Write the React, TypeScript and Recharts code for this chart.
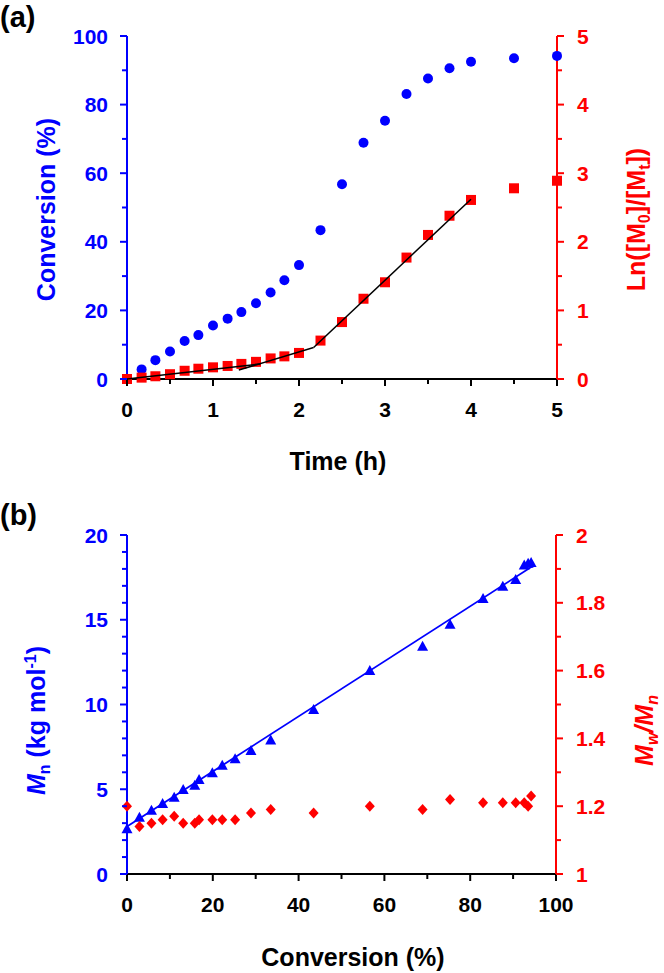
import React from "react";
import { ComposedChart, Scatter, XAxis, YAxis } from "recharts";

const BLUE = "#0000ff";
const RED = "#ff0000";
const BLACK = "#000000";
const FONT = '"Liberation Sans", Arial, Helvetica, sans-serif';

// ---- panel (a): kinetics ----
const timeA = [0, 0.17, 0.33, 0.5, 0.67, 0.83, 1, 1.17, 1.33, 1.5, 1.67, 1.83, 2, 2.25, 2.5, 2.75, 3, 3.25, 3.5, 3.75, 4, 4.5, 5];
const conversionA = [0, 2.8, 5.5, 8.0, 11.1, 12.8, 15.6, 17.6, 19.5, 22.1, 25.2, 28.8, 33.2, 43.4, 56.8, 68.9, 75.3, 83.1, 87.6, 90.6, 92.5, 93.5, 94.2];
const lnA = [0, 0.02, 0.04, 0.07, 0.12, 0.15, 0.17, 0.19, 0.22, 0.25, 0.3, 0.33, 0.38, 0.56, 0.83, 1.17, 1.41, 1.77, 2.1, 2.38, 2.61, 2.78, 2.89];

// piecewise linear fits drawn in black
const fit1Time = [0, 1.55];
const fit1Ln = [0, 0.22];
const fit2Time = [1.3, 2.17];
const fit2Ln = [0.13, 0.46];
const fit3Time = [2.17, 4.0];
const fit3Ln = [0.46, 2.62];

const timeTicks = [0, 0.5, 1, 1.5, 2, 2.5, 3, 3.5, 4, 4.5, 5];
const conversionTicks = [0, 10, 20, 30, 40, 50, 60, 70, 80, 90, 100];
const lnTicks = [0, 0.5, 1, 1.5, 2, 2.5, 3, 3.5, 4, 4.5, 5];

// ---- panel (b): molar mass vs conversion ----
const convB = [0, 2.9, 5.7, 8.3, 11.0, 13.1, 15.8, 16.8, 19.9, 22.2, 25.2, 28.9, 33.5, 43.5, 56.6, 68.9, 75.3, 83.0, 87.6, 90.6, 92.6, 93.5, 94.2];
const mnB = [2.64, 3.32, 3.73, 4.13, 4.5, 4.96, 5.21, 5.55, 5.94, 6.39, 6.77, 7.26, 7.87, 9.68, 11.98, 13.4, 14.7, 16.22, 16.95, 17.35, 18.2, 18.3, 18.35];
const dispersityB = [1.2, 1.14, 1.15, 1.16, 1.17, 1.15, 1.15, 1.16, 1.16, 1.16, 1.16, 1.18, 1.19, 1.18, 1.2, 1.19, 1.22, 1.21, 1.21, 1.21, 1.21, 1.2, 1.23];

const fitMnConv = [0, 94.5];
const fitMn = [2.8, 18.15];

const convBTicks = [0, 10, 20, 30, 40, 50, 60, 70, 80, 90, 100];
const mnTicks = [0, 1, 2, 3, 4, 5, 6, 7, 8, 9, 10, 11, 12, 13, 14, 15, 16, 17, 18, 19, 20];
const dispersityTicks = [1, 1.1, 1.2, 1.3, 1.4, 1.5, 1.6, 1.7, 1.8, 1.9, 2];

const zip = (xs: number[], ys: number[]) => xs.map((x, i) => ({ x, y: ys[i] }));

const TICK_FONT = 21;
const TITLE_FONT = 25;
const SUB_FONT = 16;

type Side = "left" | "right" | "bottom";

function makeTick(side: Side, color: string, isMajor: (v: number) => boolean) {
  return (props: any) => {
    const { x, y, payload } = props;
    const v: number = payload.value;
    const major = isMajor(v);
    const len = major ? 7 : 5;
    const label = String(Number(v.toFixed(1)));
    const textProps = {
      fill: color,
      fontSize: TICK_FONT,
      fontWeight: 700,
      fontFamily: FONT,
    };
    if (side === "left") {
      return (
        <g>
          <line x1={x} x2={x - len} y1={y} y2={y} stroke={color} strokeWidth={2} />
          {major && (
            <text x={x - 19} y={y + 7.5} textAnchor="end" {...textProps}>
              {label}
            </text>
          )}
        </g>
      );
    }
    if (side === "right") {
      return (
        <g>
          <line x1={x} x2={x + len} y1={y} y2={y} stroke={color} strokeWidth={2} />
          {major && (
            <text x={x + 20} y={y + 7.5} textAnchor="start" {...textProps}>
              {label}
            </text>
          )}
        </g>
      );
    }
    return (
      <g>
        <line x1={x} x2={x} y1={y} y2={y + len} stroke={BLACK} strokeWidth={2} />
        {major && (
          <text x={x} y={y + 38} textAnchor="middle" {...textProps} fill={BLACK}>
            {label}
          </text>
        )}
      </g>
    );
  };
}

const isInt = (v: number) => Math.abs(v - Math.round(v)) < 1e-6;
const everyN = (n: number) => (v: number) => Math.abs(v / n - Math.round(v / n)) < 1e-6;

const titleStyle = {
  fontSize: TITLE_FONT,
  fontWeight: 700,
  fontFamily: FONT,
};

function vTitle(dx: number, dy: number, color: string, body: React.ReactNode) {
  return (props: any) => {
    const vb = props.viewBox;
    const cx = vb.x + dx;
    const cy = vb.y + vb.height / 2 + dy;
    return (
      <text
        x={cx}
        y={cy}
        transform={`rotate(-90 ${cx} ${cy})`}
        textAnchor="middle"
        fill={color}
        {...titleStyle}
      >
        {body}
      </text>
    );
  };
}

function hTitle(cxAbs: number, dy: number, text: string) {
  return (props: any) => {
    const vb = props.viewBox;
    return (
      <text x={cxAbs} y={vb.y + dy} textAnchor="middle" fill={BLACK} {...titleStyle}>
        {text}
      </text>
    );
  };
}

const circle = (color: string) => (p: any) => <circle cx={p.cx} cy={p.cy} r={5} fill={color} />;
const square = (color: string) => (p: any) => (
  <rect x={p.cx - 5} y={p.cy - 5} width={10} height={10} fill={color} />
);
const triangle = (color: string) => (p: any) => (
  <polygon
    points={`${p.cx},${p.cy - 6} ${p.cx - 5.5},${p.cy + 4} ${p.cx + 5.5},${p.cy + 4}`}
    fill={color}
  />
);
const diamond = (color: string) => (p: any) => (
  <polygon
    points={`${p.cx},${p.cy - 5.5} ${p.cx + 5},${p.cy} ${p.cx},${p.cy + 5.5} ${p.cx - 5},${p.cy}`}
    fill={color}
  />
);
const noMarker = () => <g />;

const panelLabel = (text: string, top: number) => (
  <div
    style={{
      position: "absolute",
      left: 0,
      top,
      fontFamily: FONT,
      fontWeight: 700,
      fontSize: 29,
      lineHeight: "32px",
      color: BLACK,
    }}
  >
    {text}
  </div>
);

const lnTitle = (
  <>
    <tspan>Ln([M</tspan>
    <tspan dy={5} fontSize={SUB_FONT}>0</tspan>
    <tspan dy={-5}>]/[M</tspan>
    <tspan dy={5} fontSize={SUB_FONT}>t</tspan>
    <tspan dy={-5}>])</tspan>
  </>
);

const mnTitle = (
  <>
    <tspan fontStyle="italic">M</tspan>
    <tspan dy={5} fontSize={SUB_FONT}>n</tspan>
    <tspan dy={-5}> (kg mol</tspan>
    <tspan dy={-9} fontSize={SUB_FONT}>-1</tspan>
    <tspan dy={9}>)</tspan>
  </>
);

const dispersityTitle = (
  <>
    <tspan fontStyle="italic">M</tspan>
    <tspan dy={5} fontSize={SUB_FONT} fontStyle="italic">w</tspan>
    <tspan dy={-5} fontStyle="italic">/M</tspan>
    <tspan dy={5} fontSize={SUB_FONT} fontStyle="italic">n</tspan>
  </>
);

export default function App() {
  const convData = zip(timeA, conversionA);
  const lnData = zip(timeA, lnA);
  const mnData = zip(convB, mnB);
  const dispData = zip(convB, dispersityB);

  return (
    <div
      style={{
        position: "absolute",
        left: 0,
        top: 0,
        width: 664,
        height: 973,
        background: "#fff",
        overflow: "hidden",
      }}
    >
      {panelLabel("(a)", 1)}
      {panelLabel("(b)", 499)}

      <div style={{ position: "absolute", left: 0, top: 0 }}>
        <ComposedChart width={664} height={500} margin={{ top: 36, right: 37, bottom: 61, left: 57 }}>
          <XAxis
            xAxisId="t"
            type="number"
            dataKey="x"
            domain={[0, 5]}
            ticks={timeTicks}
            interval={0}
            height={60}
            tickSize={0}
            tickMargin={0}
            tickLine={false}
            axisLine={{ stroke: BLACK, strokeWidth: 2 }}
            tick={makeTick("bottom", BLACK, isInt)}
            label={hTitle(338, 91, "Time (h)")}
          />
          <YAxis
            yAxisId="conv"
            orientation="left"
            type="number"
            dataKey="y"
            domain={[0, 100]}
            ticks={conversionTicks}
            interval={0}
            width={70}
            tickSize={0}
            tickMargin={0}
            tickLine={false}
            axisLine={{ stroke: BLUE, strokeWidth: 2 }}
            tick={makeTick("left", BLUE, everyN(20))}
            label={vTitle(-2, 2, BLUE, "Conversion (%)")}
          />
          <YAxis
            yAxisId="ln"
            orientation="right"
            type="number"
            dataKey="y"
            domain={[0, 5]}
            ticks={lnTicks}
            interval={0}
            width={70}
            tickSize={0}
            tickMargin={0}
            tickLine={false}
            axisLine={{ stroke: RED, strokeWidth: 2 }}
            tick={makeTick("right", RED, isInt)}
            label={vTitle(88, 12, RED, lnTitle)}
          />
          <Scatter xAxisId="t" yAxisId="conv" data={convData} fill={BLUE} shape={circle(BLUE)} isAnimationActive={false} />
          <Scatter xAxisId="t" yAxisId="ln" data={lnData} fill={RED} shape={square(RED)} isAnimationActive={false} />
          <Scatter
            xAxisId="t"
            yAxisId="ln"
            data={zip(fit1Time, fit1Ln)}
            line={{ stroke: BLACK, strokeWidth: 1.5 }}
            shape={noMarker}
            isAnimationActive={false}
          />
          <Scatter
            xAxisId="t"
            yAxisId="ln"
            data={zip(fit2Time, fit2Ln)}
            line={{ stroke: BLACK, strokeWidth: 1.5 }}
            shape={noMarker}
            isAnimationActive={false}
          />
          <Scatter
            xAxisId="t"
            yAxisId="ln"
            data={zip(fit3Time, fit3Ln)}
            line={{ stroke: BLACK, strokeWidth: 1.5 }}
            shape={noMarker}
            isAnimationActive={false}
          />
        </ComposedChart>
      </div>

      <div style={{ position: "absolute", left: 0, top: 480 }}>
        <ComposedChart width={664} height={493} margin={{ top: 55, right: 38, bottom: 39, left: 57 }}>
          <XAxis
            xAxisId="c"
            type="number"
            dataKey="x"
            domain={[0, 100]}
            ticks={convBTicks}
            interval={0}
            height={60}
            tickSize={0}
            tickMargin={0}
            tickLine={false}
            axisLine={{ stroke: BLACK, strokeWidth: 2 }}
            tick={makeTick("bottom", BLACK, everyN(20))}
            label={hTitle(353, 92, "Conversion (%)")}
          />
          <YAxis
            yAxisId="mn"
            orientation="left"
            type="number"
            dataKey="y"
            domain={[0, 20]}
            ticks={mnTicks}
            interval={0}
            width={70}
            tickSize={0}
            tickMargin={0}
            tickLine={false}
            axisLine={{ stroke: BLUE, strokeWidth: 2 }}
            tick={makeTick("left", BLUE, everyN(5))}
            label={vTitle(-12, 16, BLUE, mnTitle)}
          />
          <YAxis
            yAxisId="disp"
            orientation="right"
            type="number"
            dataKey="y"
            domain={[1, 2]}
            ticks={dispersityTicks}
            interval={0}
            width={70}
            tickSize={0}
            tickMargin={0}
            tickLine={false}
            axisLine={{ stroke: RED, strokeWidth: 2 }}
            tick={makeTick("right", RED, everyN(0.2))}
            label={vTitle(97, 26, RED, dispersityTitle)}
          />
          <Scatter
            xAxisId="c"
            yAxisId="mn"
            data={zip(fitMnConv, fitMn)}
            line={{ stroke: BLUE, strokeWidth: 1.8 }}
            shape={noMarker}
            isAnimationActive={false}
          />
          <Scatter xAxisId="c" yAxisId="mn" data={mnData} fill={BLUE} shape={triangle(BLUE)} isAnimationActive={false} />
          <Scatter xAxisId="c" yAxisId="disp" data={dispData} fill={RED} shape={diamond(RED)} isAnimationActive={false} />
        </ComposedChart>
      </div>
    </div>
  );
}
